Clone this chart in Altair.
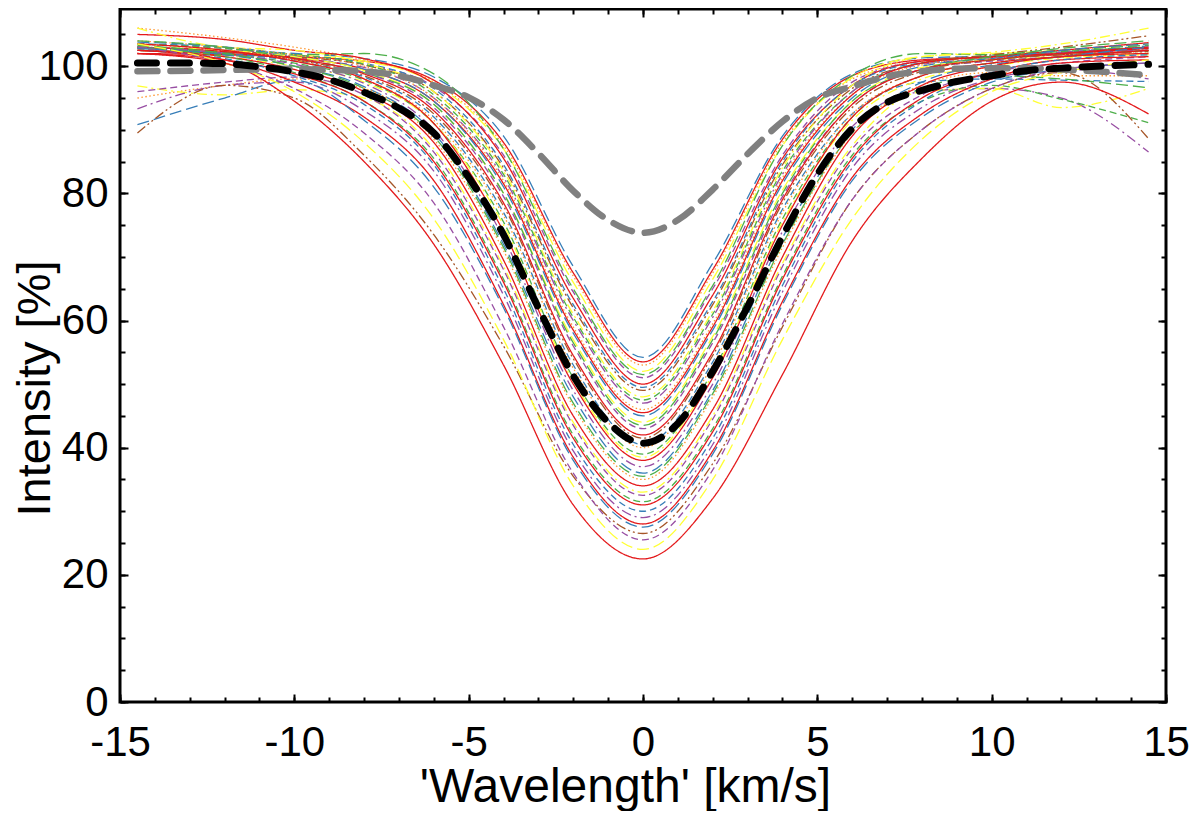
import altair as alt
import pandas as pd

# Velocity grid of the individual line profiles
velocity = [-14.5, -12, -10, -8, -6, -4, -2, 0, 2, 4, 6, 8, 10, 12, 14.5]

# Individual profiles (intensity in %)
line_01 = [103.0, 102.5, 102.0, 101.2, 98.3, 89.0, 68.5, 54.2, 69.0, 89.0, 98.8, 101.3, 101.6, 102.2, 103.2]
line_02 = [102.0, 101.8, 101.5, 100.8, 97.8, 88.0, 67.5, 53.5, 68.0, 88.5, 98.5, 101.0, 101.4, 101.8, 102.5]
line_03 = [106.0, 104.5, 103.0, 101.0, 97.5, 87.5, 67.0, 53.0, 67.5, 88.0, 98.0, 100.8, 101.5, 102.0, 102.8]
line_04 = [102.8, 102.4, 101.8, 100.8, 97.3, 87.0, 66.0, 52.0, 66.5, 87.5, 98.2, 101.5, 102.0, 102.5, 103.5]
line_05 = [103.0, 102.2, 101.8, 102.0, 98.8, 87.0, 65.0, 51.5, 65.5, 87.5, 98.5, 102.0, 101.8, 102.5, 103.3]
line_06 = [103.5, 102.8, 101.5, 100.3, 96.8, 86.0, 64.5, 51.0, 65.0, 86.0, 97.5, 100.8, 101.5, 102.2, 103.0]
line_07 = [105.0, 104.2, 102.5, 101.2, 97.2, 85.5, 63.5, 50.0, 64.0, 85.5, 97.0, 100.8, 101.5, 102.5, 103.7]
line_08 = [103.5, 103.0, 101.8, 100.5, 96.5, 84.5, 62.5, 49.5, 63.0, 85.0, 97.0, 100.5, 101.0, 102.0, 102.8]
line_09 = [103.0, 102.5, 101.5, 100.2, 96.0, 84.0, 62.0, 49.0, 62.5, 84.5, 96.5, 100.5, 101.8, 103.0, 104.8]
line_10 = [106.0, 103.0, 102.5, 100.5, 96.0, 83.5, 61.0, 48.0, 61.5, 84.0, 97.0, 101.5, 102.2, 103.5, 106.0]
line_11 = [103.5, 102.8, 101.8, 100.3, 95.5, 83.0, 60.5, 47.5, 61.0, 83.5, 96.0, 100.5, 101.5, 102.3, 103.0]
line_12 = [102.5, 102.0, 101.2, 99.8, 95.0, 82.5, 60.0, 47.0, 60.5, 83.0, 96.0, 100.3, 101.2, 102.0, 102.5]
line_13 = [104.0, 103.0, 101.8, 100.0, 95.0, 82.0, 59.0, 46.0, 59.5, 82.5, 95.5, 100.2, 101.3, 101.8, 102.3]
line_14 = [102.5, 102.0, 101.3, 99.5, 94.5, 81.5, 58.5, 45.5, 59.0, 82.0, 95.5, 100.5, 101.5, 102.0, 102.8]
line_15 = [103.8, 103.0, 101.5, 99.5, 94.5, 81.0, 58.0, 45.0, 58.5, 81.5, 95.0, 100.0, 101.2, 102.5, 103.5]
line_16 = [103.0, 102.5, 101.5, 99.3, 94.0, 80.0, 57.0, 44.0, 57.5, 80.5, 94.5, 99.8, 101.0, 101.5, 102.0]
line_17 = [104.0, 103.0, 101.2, 99.0, 94.0, 80.0, 56.5, 43.5, 57.0, 80.0, 94.5, 99.5, 101.5, 102.8, 104.0]
line_18 = [102.8, 102.0, 101.0, 99.0, 93.5, 79.5, 56.0, 43.0, 56.5, 79.5, 94.0, 99.5, 100.8, 101.5, 102.5]
line_19 = [103.0, 102.3, 101.2, 98.8, 93.0, 78.5, 54.5, 42.0, 55.0, 79.0, 94.0, 99.5, 101.0, 102.0, 103.0]
line_20 = [102.5, 102.0, 101.0, 98.5, 92.5, 78.0, 54.0, 41.5, 54.5, 78.5, 93.5, 99.2, 101.0, 101.8, 102.3]
line_21 = [103.0, 102.0, 100.8, 98.3, 92.0, 77.0, 53.0, 40.5, 53.5, 77.5, 92.5, 97.5, 98.0, 97.8, 97.6]
line_22 = [103.5, 102.5, 101.0, 98.0, 91.5, 76.5, 52.5, 40.0, 53.0, 77.0, 92.5, 98.5, 100.5, 101.5, 102.0]
line_23 = [102.8, 101.8, 100.5, 97.8, 91.0, 75.5, 51.0, 39.0, 52.0, 76.0, 92.0, 98.5, 100.5, 101.5, 102.5]
line_24 = [102.5, 101.5, 100.0, 97.5, 91.0, 75.0, 50.5, 38.5, 51.5, 75.5, 91.5, 98.0, 100.0, 101.3, 101.8]
line_25 = [103.5, 102.5, 100.8, 98.0, 91.0, 74.0, 50.0, 38.0, 51.0, 75.0, 92.0, 98.5, 100.5, 101.5, 102.5]
line_26 = [103.0, 102.0, 100.3, 97.3, 90.0, 73.0, 49.0, 37.0, 50.0, 74.0, 90.5, 96.0, 96.5, 95.0, 86.5]
line_27 = [102.8, 101.8, 100.0, 96.8, 89.5, 72.0, 48.0, 36.0, 49.0, 73.0, 90.0, 97.5, 100.2, 101.5, 103.0]
line_28 = [103.3, 102.0, 100.0, 96.5, 89.0, 71.5, 47.0, 35.5, 48.5, 72.0, 89.5, 96.5, 98.5, 98.0, 96.6]
line_29 = [95.0, 97.0, 98.0, 96.5, 88.5, 71.0, 46.5, 35.0, 48.0, 71.5, 89.5, 97.0, 99.0, 98.5, 98.5]
line_30 = [102.5, 101.5, 99.5, 96.0, 88.0, 69.5, 45.0, 34.0, 46.0, 70.0, 89.0, 97.0, 100.0, 101.5, 102.0]
line_31 = [96.9, 95.5, 96.3, 95.0, 87.0, 68.5, 44.0, 33.0, 45.0, 69.0, 87.5, 96.0, 96.5, 93.5, 96.5]
line_32 = [96.0, 97.5, 98.3, 95.5, 86.5, 68.0, 43.5, 32.5, 44.5, 68.5, 87.0, 95.5, 99.0, 100.5, 101.5]
line_33 = [103.0, 101.5, 99.0, 94.5, 85.5, 66.5, 42.0, 31.5, 43.0, 67.0, 86.0, 94.5, 97.0, 94.8, 91.1]
line_34 = [102.0, 101.0, 98.8, 94.5, 85.0, 66.0, 41.5, 31.0, 42.5, 66.5, 85.5, 95.0, 99.0, 101.0, 101.5]
line_35 = [102.5, 101.2, 98.5, 94.0, 84.5, 65.0, 40.5, 30.0, 41.5, 65.5, 85.0, 94.5, 99.0, 101.0, 101.8]
line_36 = [93.3, 97.0, 97.5, 93.0, 83.5, 64.0, 39.5, 29.0, 40.5, 64.5, 84.0, 93.5, 98.0, 99.5, 98.0]
line_37 = [102.5, 101.0, 97.5, 92.0, 82.0, 62.5, 38.5, 28.0, 39.5, 63.0, 82.5, 92.5, 98.0, 100.5, 101.0]
line_38 = [90.8, 95.0, 97.8, 91.5, 81.0, 62.0, 38.0, 27.5, 39.0, 62.5, 82.0, 92.0, 97.5, 99.5, 100.5]
line_39 = [89.5, 97.0, 95.0, 86.0, 73.5, 56.0, 35.5, 26.5, 37.5, 59.0, 79.0, 90.0, 96.5, 99.0, 88.6]
line_40 = [103.0, 100.5, 96.5, 89.5, 78.5, 59.0, 36.0, 25.5, 36.5, 59.5, 79.0, 90.0, 96.5, 99.5, 100.5]
line_41 = [103.5, 100.5, 96.0, 88.0, 76.0, 57.0, 34.0, 24.0, 35.0, 57.0, 76.0, 88.5, 96.0, 99.0, 101.0]
line_42 = [102.0, 100.5, 94.5, 85.0, 72.0, 53.0, 31.0, 22.5, 32.0, 51.5, 72.5, 85.5, 94.5, 97.5, 92.5]

profiles = [
    line_01, line_02, line_03, line_04, line_05, line_06, line_07, line_08, line_09, line_10,
    line_11, line_12, line_13, line_14, line_15, line_16, line_17, line_18, line_19, line_20,
    line_21, line_22, line_23, line_24, line_25, line_26, line_27, line_28, line_29, line_30,
    line_31, line_32, line_33, line_34, line_35, line_36, line_37, line_38, line_39, line_40,
    line_41, line_42,
]

line_colours = [
    "blue", "red", "orange", "yellow", "green", "purple", "red", "blue", "brown", "yellow",
    "green", "purple", "orange", "red", "blue", "yellow", "green", "purple", "red", "brown",
    "blue", "orange", "green", "yellow", "red", "purple", "blue", "green", "orange", "red",
    "yellow", "purple", "green", "red", "blue", "purple", "red", "blue", "brown", "purple",
    "yellow", "red",
]
line_dashes = [
    "long", "solid", "dot", "long", "long", "dash", "solid", "dash", "dashdotdot", "dashdot",
    "dash", "dashdot", "dot", "solid", "long", "long", "long", "dash", "solid", "dashdotdot",
    "dash", "dot", "dash", "dashdot", "solid", "dashdot", "long", "long", "dot", "solid",
    "dashdot", "dash", "dash", "solid", "dash", "dashdot", "solid", "long", "dashdotdot", "dash",
    "long", "solid",
]

# Thick dashed curves (mean profile in black, model profile in grey)
thick_velocity = [-14.5, -13, -12, -11, -10, -9, -8, -7, -6, -5, -4, -3, -2, -1, 0,
                  1, 2, 3, 4, 5, 6, 7, 8, 9, 10, 11, 12, 13, 14.5]
mean_profile = [100.5, 100.5, 100.4, 99.9, 99.1, 97.9, 95.9, 93.4, 89.5, 82.5, 73.5, 62.0, 51.3, 44.0, 40.7,
                43.8, 52.0, 62.2, 73.2, 83.0, 90.2, 94.3, 96.2, 97.6, 98.5, 99.3, 99.7, 100.0, 100.3]
model_profile = [99.2, 99.3, 99.4, 99.5, 99.6, 99.4, 99.2, 98.5, 97.0, 95.1, 91.6, 86.3, 80.4, 75.8, 73.8,
                 75.8, 80.6, 86.2, 91.3, 95.0, 96.8, 98.4, 99.2, 99.6, 99.7, 99.7, 99.5, 99.2, 98.6]

colour_names = ["red", "yellow", "blue", "green", "purple", "brown", "orange"]
colour_hex = ["#e41a1c", "#ffff33", "#377eb8", "#4daf4a", "#984ea3", "#a65628", "#ff9933"]
dash_names = ["solid", "long", "dash", "dashdot", "dashdotdot", "dot"]
dash_arrays = [[1, 0], [12, 5], [7, 4], [10, 4, 2, 4], [10, 3, 2, 3, 2, 3], [1.5, 2.5]]

rows = []
for i, values in enumerate(profiles):
    for v, inten in zip(velocity, values):
        rows.append({"line": i, "velocity": v, "intensity": inten,
                     "colour": line_colours[i], "dash": line_dashes[i]})
lines_df = pd.DataFrame(rows)

thick_df = pd.DataFrame({
    "velocity": thick_velocity,
    "mean": mean_profile,
    "model": model_profile,
})

FONT = "Liberation Sans"
x_scale = alt.Scale(domain=[-15, 15], nice=False, zero=False)
y_scale = alt.Scale(domain=[0, 109], nice=False)
major_x = [-15, -10, -5, 0, 5, 10, 15]
minor_x = list(range(-15, 16))
major_y = [0, 20, 40, 60, 80, 100]
minor_y = list(range(0, 110, 5))

tick_style = dict(domain=False, grid=False, tickColor="black", tickWidth=2)

# Individual profiles carry the labelled bottom and left axes
lines = (
    alt.Chart(lines_df)
    .mark_line(strokeWidth=1.3, interpolate="monotone")
    .encode(
        alt.X("velocity:Q").scale(x_scale).axis(
            orient="bottom", values=major_x, tickSize=8, offset=-8,
            labelExpr="'' + datum.value", labelFlush=False, labelFont=FONT,
            labelFontSize=42, labelColor="black", labelPadding=20,
            title="'Wavelength' [km/s]", titleFont=FONT, titleFontSize=48,
            titleFontWeight="normal", titleColor="black",
            titleX=505, titleY=107, titleAlign="center", titleBaseline="alphabetic",
            **tick_style,
        ),
        alt.Y("intensity:Q").scale(y_scale).axis(
            orient="left", values=major_y, tickSize=8, offset=-8,
            labelFont=FONT, labelFontSize=42, labelColor="black", labelPadding=12,
            title="Intensity [%]", titleFont=FONT, titleFontSize=47,
            titleFontWeight="normal", titleColor="black",
            titleX=-93, titleY=379, titleAlign="center", titleBaseline="middle",
            titleAngle=270, **tick_style,
        ),
        alt.Color("colour:N").scale(domain=colour_names, range=colour_hex).legend(None),
        alt.StrokeDash("dash:N").scale(domain=dash_names, range=dash_arrays).legend(None),
        detail="line:N",
    )
)

# Grey model profile carries the minor bottom and left ticks
model = (
    alt.Chart(thick_df)
    .mark_line(color="#808080", strokeWidth=6.5, strokeDash=[20, 13],
               strokeCap="round", interpolate="monotone")
    .encode(
        alt.X("velocity:Q").scale(x_scale).axis(
            orient="bottom", values=minor_x, tickSize=5, offset=-5,
            labels=False, **tick_style).title(None),
        alt.Y("model:Q").scale(y_scale).axis(
            orient="left", values=minor_y, tickSize=5, offset=-5,
            labels=False, **tick_style).title(None),
    )
)

# Black mean profile carries the major top and right ticks
mean = (
    alt.Chart(thick_df)
    .mark_line(color="black", strokeWidth=7, strokeDash=[19, 14],
               strokeCap="round", interpolate="monotone")
    .encode(
        alt.X("velocity:Q").scale(x_scale).axis(
            orient="top", values=major_x, tickSize=8, offset=-8,
            labels=False, **tick_style).title(None),
        alt.Y("mean:Q").scale(y_scale).axis(
            orient="right", values=major_y, tickSize=8, offset=-8,
            labels=False, **tick_style).title(None),
    )
)

# Invisible copy, only used for the minor top and right ticks
ghost = (
    alt.Chart(thick_df)
    .mark_line(opacity=0)
    .encode(
        alt.X("velocity:Q").scale(x_scale).axis(
            orient="top", values=minor_x, tickSize=5, offset=-5,
            labels=False, **tick_style).title(None),
        alt.Y("mean:Q").scale(y_scale).axis(
            orient="right", values=minor_y, tickSize=5, offset=-5,
            labels=False, **tick_style).title(None),
    )
)

chart = (
    alt.layer(lines, model, mean, ghost)
    .resolve_axis(x="independent", y="independent")
    .properties(
        width=1046,
        height=693,
        autosize=alt.AutoSizeParams(type="none"),
        padding={"left": 112, "top": 1, "right": 26, "bottom": 109},
    )
    .configure_view(stroke="black", strokeWidth=3)
)

chart.save("out.html", embed_options={"renderer": "svg", "actions": False})
